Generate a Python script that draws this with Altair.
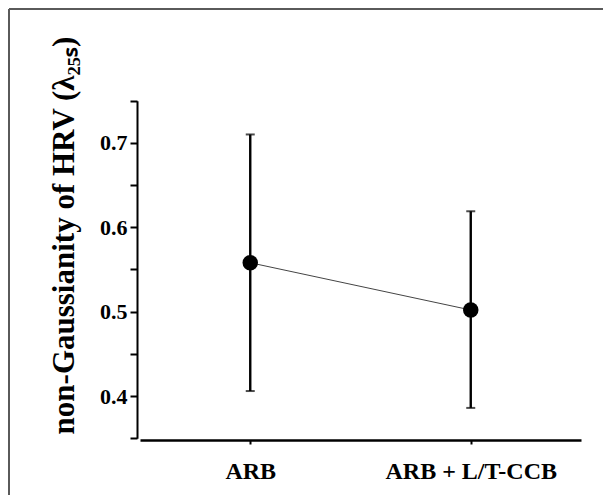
import altair as alt
import pandas as pd

groups = ["ARB", "ARB + L/T-CCB"]
means = [0.558, 0.502]
upper = [0.710, 0.619]
lower = [0.406, 0.386]
y_ticks = [0.35, 0.40, 0.45, 0.50, 0.55, 0.60, 0.65, 0.70, 0.75]

df = pd.DataFrame({"group": groups, "mean": means, "hi": upper, "lo": lower})

W, H = 594, 486
SERIF = "Liberation Serif"

x_enc = alt.X(
    "group:N",
    sort=groups,
    scale=alt.Scale(type="point", range=[131, 572], padding=0.5),
    axis=alt.Axis(
        title=None, orient="bottom", offset=-(H - 431), labelAngle=0,
        labelFont=SERIF, labelFontWeight="bold", labelFontSize=24,
        labelColor="black", labelPadding=15, tickSize=4, tickWidth=2,
        tickColor="black", domainColor="black", domainWidth=2.5, grid=False,
    ),
)
y_scale = alt.Scale(domain=[0.35, 0.75], range=[429.3, 91.7], zero=False, nice=False)
y_enc = alt.Y(
    "mean:Q",
    scale=y_scale,
    axis=alt.Axis(
        title="non-Gaussianity of HRV (λ₂₅ₛ)", orient="left", offset=-128,
        values=y_ticks, format=".1f",
        labelExpr="round(datum.value*100) % 10 == 0 ? datum.label : ''",
        labelFont=SERIF, labelFontWeight="bold", labelFontSize=22,
        labelColor="black", labelPadding=3, tickSize=7, tickWidth=2,
        tickColor="black", domainColor="black", domainWidth=2, grid=False,
        titleFont=SERIF, titleFontWeight="bold", titleFontSize=31,
        titleColor="black", titleAngle=270, titleX=-64, titleY=226,
        titleAlign="center", titleBaseline="alphabetic",
    ),
)

base = alt.Chart(df)

border_df = pd.DataFrame({"a": [0]})
top_border = alt.Chart(border_df).mark_rule(color="#5a5a5a", strokeWidth=2).encode(
    x=alt.value(0), x2=alt.value(W + 20), y=alt.value(0)
)
left_border = alt.Chart(border_df).mark_rule(color="#5a5a5a", strokeWidth=2).encode(
    x=alt.value(0), y=alt.value(0), y2=alt.value(H + 20)
)

line = base.mark_line(color="#444444", strokeWidth=1).encode(x=x_enc, y=y_enc)
bars = base.mark_rule(color="black", strokeWidth=2.4).encode(
    x=x_enc, y=alt.Y("lo:Q", scale=y_scale), y2="hi:Q"
)
cap_hi = base.mark_tick(color="black", size=9, thickness=2).encode(
    x=x_enc, y=alt.Y("hi:Q", scale=y_scale)
)
cap_lo = base.mark_tick(color="black", size=9, thickness=2).encode(
    x=x_enc, y=alt.Y("lo:Q", scale=y_scale)
)
points = base.mark_point(filled=True, color="black", opacity=1, size=240).encode(
    x=x_enc, y=y_enc
)

chart = alt.layer(
    top_border, left_border, line, bars, cap_hi, cap_lo, points
).properties(
    width=W, height=H,
    autosize=alt.AutoSizeParams(type="none"),
    padding={"left": 1, "top": 1, "right": 0, "bottom": 0},
).configure_view(strokeWidth=0, stroke="transparent").configure(background="white")

chart.save("out.html", embed_options={"renderer": "svg", "actions": False})
